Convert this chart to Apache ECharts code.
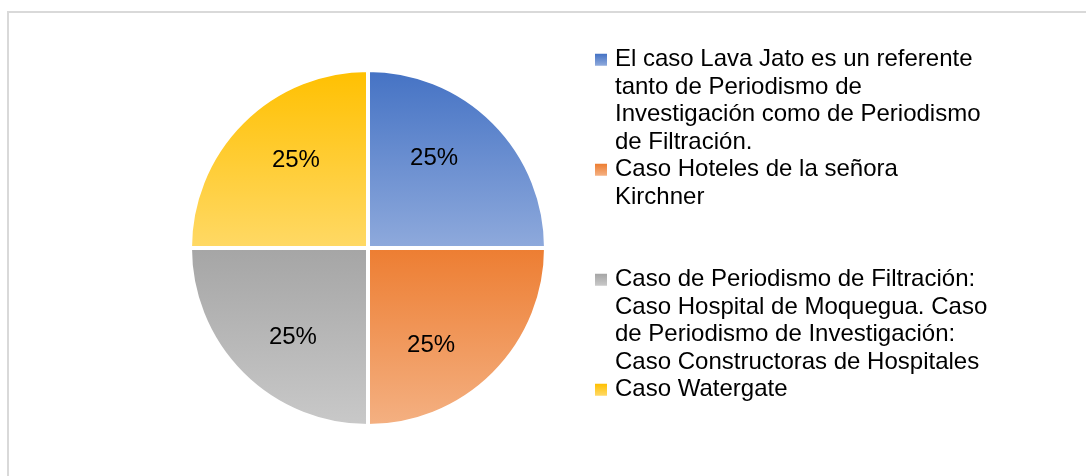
<!DOCTYPE html>
<html>
<head>
<meta charset="utf-8">
<script src="https://cdn.jsdelivr.net/npm/echarts@6/dist/echarts.min.js"></script>
<style>
  html, body { margin: 0; padding: 0; background: #fff; }
  #chart { width: 1086px; height: 476px; }
</style>
</head>
<body>
<div id="chart"></div>
<script>
const categories = [
  'El caso Lava Jato es un referente tanto de Periodismo de Investigación como de Periodismo de Filtración.',
  'Caso Hoteles de la señora Kirchner',
  'Caso de Periodismo de Filtración: Caso Hospital de Moquegua. Caso de Periodismo de Investigación: Caso Constructoras de Hospitales',
  'Caso Watergate',
]
const values = [25, 25, 25, 25]

// legend text wrapped the way the source shows it
const legendLines = [
  ['El caso Lava Jato es un referente', 'tanto de Periodismo de', 'Investigación como de Periodismo', 'de Filtración.'],
  ['Caso Hoteles de la señora', 'Kirchner', '', ''],
  ['Caso de Periodismo de Filtración:', 'Caso Hospital de Moquegua. Caso', 'de Periodismo de Investigación:', 'Caso Constructoras de Hospitales'],
  ['Caso Watergate'],
]

const topColors = ['#4472C4', '#ED7D31', '#A5A5A5', '#FFC000']
const bottomColors = ['#8FAADC', '#F4B183', '#C9C9C9', '#FFD966']

const FONT = '"Liberation Sans", Arial, sans-serif'

function grad(i) {
  return new echarts.graphic.LinearGradient(0, 0, 0, 1, [
    { offset: 0, color: topColors[i] },
    { offset: 1, color: bottomColors[i] },
  ])
}

const labelOffsets = [[1, -25], [-2, 32], [-10, 24], [-7, -23]]

const rich = {
  g: { width: 8 },
  sp: { width: 20 },
  t: { fontSize: 24, fontFamily: FONT, color: '#000', lineHeight: 27.5 },
}
categories.forEach((_, i) => {
  rich['m' + i] = { width: 12, height: 12, backgroundColor: grad(i), lineHeight: 27.5 }
})

const chart = echarts.init(document.getElementById('chart'))

chart.setOption({
  animation: false,
  graphic: [
    {
      type: 'rect',
      shape: { x: 8, y: 12, width: 1200, height: 600 },
      style: { fill: 'none', stroke: '#d9d9d9', lineWidth: 2 },
      silent: true,
    },
  ],
  legend: {
    orient: 'vertical',
    left: 590,
    top: 46,
    padding: 0,
    itemGap: 0,
    icon: 'none',
    itemWidth: 0,
    itemHeight: 14,
    selectedMode: false,
    data: categories,
    textStyle: { fontSize: 24, fontFamily: FONT, color: '#000', lineHeight: 27.5, rich },
    formatter(name) {
      const i = categories.indexOf(name)
      return legendLines[i]
        .map((line, j) => (j === 0 ? `{m${i}|}{g|}` : '{sp|}') + `{t|${line || ' '}}`)
        .join('\n')
    },
  },
  series: [
    {
      type: 'pie',
      center: [368, 248],
      radius: 178,
      startAngle: 90,
      clockwise: true,
      emphasis: { disabled: true },
      itemStyle: { borderColor: '#fff', borderWidth: 4 },
      label: {
        show: true,
        position: 'inside',
        formatter: '{d}%',
        fontSize: 24,
        fontFamily: FONT,
        color: '#000',
      },
      labelLine: { show: false },
      data: values.map((v, i) => ({
        name: categories[i],
        value: v,
        itemStyle: { color: grad(i) },
        label: { offset: labelOffsets[i] },
      })),
    },
  ],
})
</script>
</body>
</html>
